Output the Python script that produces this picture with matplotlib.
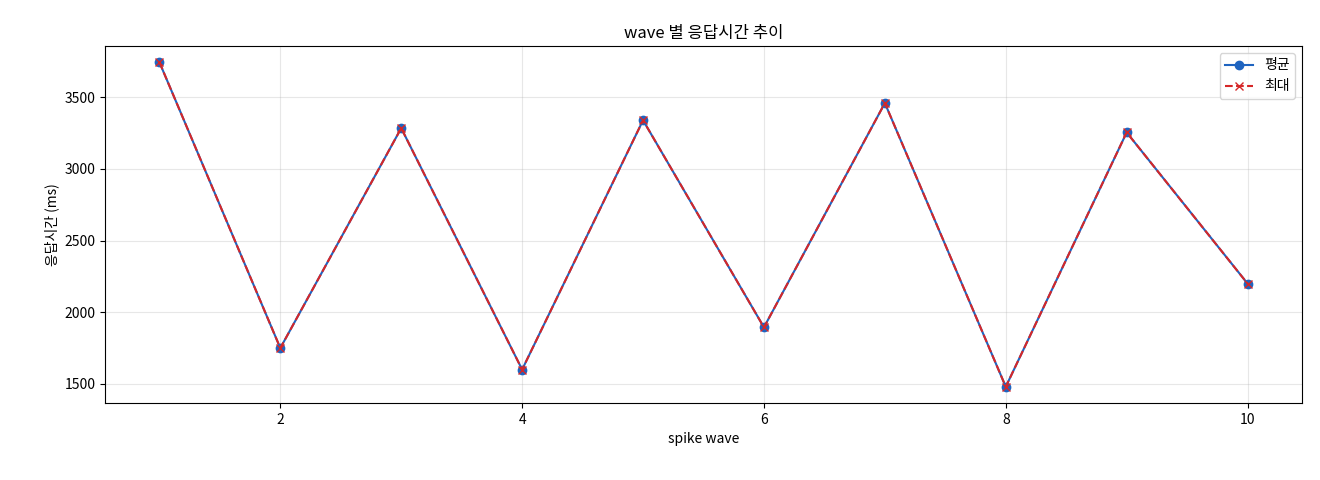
import matplotlib
matplotlib.use("Agg")
import matplotlib.pyplot as plt

plt.rcParams['font.family'] = ['Noto Sans CJK KR', 'DejaVu Sans']

waves = [1, 2, 3, 4, 5, 6, 7, 8, 9, 10]
avg_ms = [3745, 1750, 3285, 1600, 3340, 1895, 3460, 1480, 3255, 2200]
max_ms = [3745, 1750, 3285, 1600, 3340, 1895, 3460, 1480, 3255, 2200]

fig = plt.figure(figsize=(13.2, 4.8), dpi=100)
ax = fig.add_axes([105/1320, 1-403/480, (1302-105)/1320, (403-46)/480])
ax.plot(waves, avg_ms, marker='o', color='#1f64c0', label='평균', markersize=6)
ax.plot(waves, max_ms, marker='x', linestyle='--', color='#d62728', label='최대', markersize=6)
ax.set_title('wave 별 응답시간 추이', fontsize=12)
ax.set_xlabel('spike wave', fontsize=10)
ax.set_ylabel('응답시간 (ms)', fontsize=10)
ax.grid(True, alpha=0.3)
ax.legend(loc='upper right')
fig.savefig('out.png', dpi=100)
